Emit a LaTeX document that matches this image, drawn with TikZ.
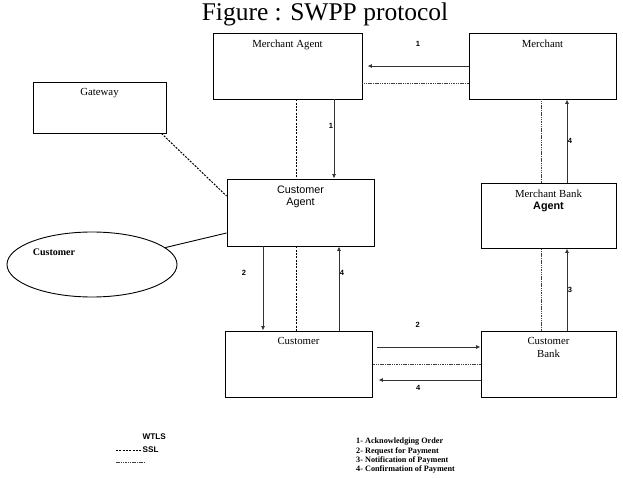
\documentclass[tikz,border=0pt]{standalone}
\usepackage{fontspec}
\setmainfont{Liberation Serif}
\setsansfont{Liberation Sans}
\usetikzlibrary{positioning,arrows.meta,shapes.geometric}

\tikzset{
  boite/.style={draw, line width=0.9pt, inner sep=0pt},
  fleche/.style={draw=black!80, line width=0.9pt, -{Latex[length=4.5pt,width=4pt]}},
  wtls/.style={line width=1pt, dash pattern=on 2pt off 1.3pt},
  ssl/.style={draw=black!75, line width=0.7pt, dash pattern=on 1.5pt off 0.8pt},
  num/.style={font=\sffamily\bfseries\fontsize{7.5}{8}\selectfont, inner sep=0.5pt},
  txt/.style={font=\fontsize{10.8}{12.6}\selectfont, inner sep=0pt, align=center},
  txtsf/.style={txt, font=\sffamily\fontsize{10.8}{12.6}\selectfont},
}

\begin{document}
\begin{tikzpicture}[x=1pt, y=-1pt]
\useasboundingbox (0,0) rectangle (623,478);

% Titre
\node[font=\fontsize{25.5}{27}\selectfont, inner sep=0pt] (titre) at (325,14.5) {Figure : SWPP protocol};

% Boîtes
\node[boite, minimum width=149, minimum height=66] (ma) at (287.5,66) {};
\node[boite, minimum width=147, minimum height=66] (merch) at (542.5,66) {};
\node[boite, minimum width=133, minimum height=51] (gw) at (99.5,107.5) {};
\node[boite, minimum width=147, minimum height=67] (ca) at (300.5,212.5) {};
\node[boite, minimum width=135, minimum height=65] (mb) at (548.5,215.5) {};
\node[boite, minimum width=147, minimum height=66] (cust) at (298.5,364) {};
\node[boite, minimum width=135, minimum height=66] (cb) at (548.5,364) {};
\node[boite, ellipse, minimum width=170, minimum height=65] (ell) at (92,264.5) {};

% Textes des boîtes
\node[txt, below=7pt of ma.north] (ma-t) {Merchant Agent};
\node[txt, below=7pt of merch.north] (merch-t) {Merchant};
\node[txt, below=7pt of gw.north] (gw-t) {Gateway};
\node[txtsf, below=7pt of ca.north] (ca-t) {Customer\\Agent};
\node[txt, below=7pt of mb.north] (mb-t) {Merchant Bank\\\sffamily\bfseries Agent};
\node[txt, below=7pt of cust.north] (cust-t) {Customer};
\node[txt, below=7pt of cb.north] (cb-t) {Customer\\Bank};
\node[txt, font=\bfseries\fontsize{10}{12}\selectfont] (ell-t) at (54,252) {Customer};

% Liaisons WTLS et SSL
\draw[wtls] ([xshift=8.5pt]ma.south) -- ([xshift=8.5pt]ma.south |- ca.north);
\draw[wtls] ([xshift=-4.5pt]ca.south) -- ([xshift=-4.5pt]ca.south |- cust.north);
\draw[wtls] ([xshift=-5pt]gw.south east) -- ([yshift=16.5pt]ca.west);
\draw[ssl] ([yshift=-17pt]merch.west) -- ([yshift=-17pt]ma.east);
\draw[ssl] (cb.west) -- (cust.east);
\draw[ssl] ([xshift=-7.5pt]cb.north) -- ([xshift=-7.5pt]mb.south);
\draw[ssl] ([xshift=-7.5pt]mb.north) -- ([xshift=-7.5pt]mb.north |- merch.south);
\draw[line width=0.9pt] (ell.13) -- ([yshift=-20.5pt]ca.west);

% Messages
\draw[fleche] (merch.west) -- ([xshift=5pt]ma.east)
  node[num, pos=0.5, above=19pt] (n1a) {1};
\draw[fleche] ([xshift=46.5pt]ma.south) -- ([xshift=46.5pt]ma.south |- ca.north)
  node[num, pos=0.33, left=0pt] (n1b) {1};
\draw[fleche] ([xshift=-37.5pt]ca.south) -- ([xshift=-37.5pt]ca.south |- cust.north)
  node[num, pos=0.32, left=16pt] (n2a) {2};
\draw[fleche] ([xshift=40.5pt]cust.north) -- ([xshift=40.5pt]cust.north |- ca.south)
  node[num, pos=0.68, right=0pt] (n4a) {4};
\draw[fleche] ([yshift=17pt,xshift=5pt]cust.east) -- ([yshift=17pt]cust.east -| cb.west)
  node[num, pos=0.39, above=19pt] (n2b) {2};
\draw[fleche] ([yshift=-16pt]cb.west) -- ([yshift=-16pt,xshift=6pt]cust.east)
  node[num, pos=0.61, below=4pt] (n4b) {4};
\draw[fleche] ([xshift=18.5pt]cb.north) -- ([xshift=18.5pt]mb.south)
  node[num, pos=0.49, right=0pt] (n3) {3};
\draw[fleche] ([xshift=18.5pt]mb.north) -- ([xshift=18.5pt]mb.north |- merch.south)
  node[num, pos=0.5, right=0pt] (n4c) {4};

% Légende
\coordinate (lw1) at (116,450);
\coordinate (lw2) at (141,450);
\coordinate (ls1) at (116,462);
\coordinate (ls2) at (145,462);
\draw[wtls, line width=0.8pt] (lw1) -- (lw2);
\draw[ssl] (ls1) -- (ls2);
\node[num, font=\sffamily\bfseries\fontsize{8.2}{9}\selectfont, anchor=west] (leg-w) at (142,437) {WTLS};
\node[num, font=\sffamily\bfseries\fontsize{8.2}{9}\selectfont, anchor=west] (leg-s) at (142,450) {SSL};
\node[anchor=north west, inner sep=0pt, align=left, font=\bfseries\fontsize{8.2}{9.3}\selectfont] (leg-m) at (356,438)
  {1- Acknowledging Order\\2- Request for Payment\\3- Notification of Payment\\4- Confirmation of Payment};

\end{tikzpicture}
\end{document}
